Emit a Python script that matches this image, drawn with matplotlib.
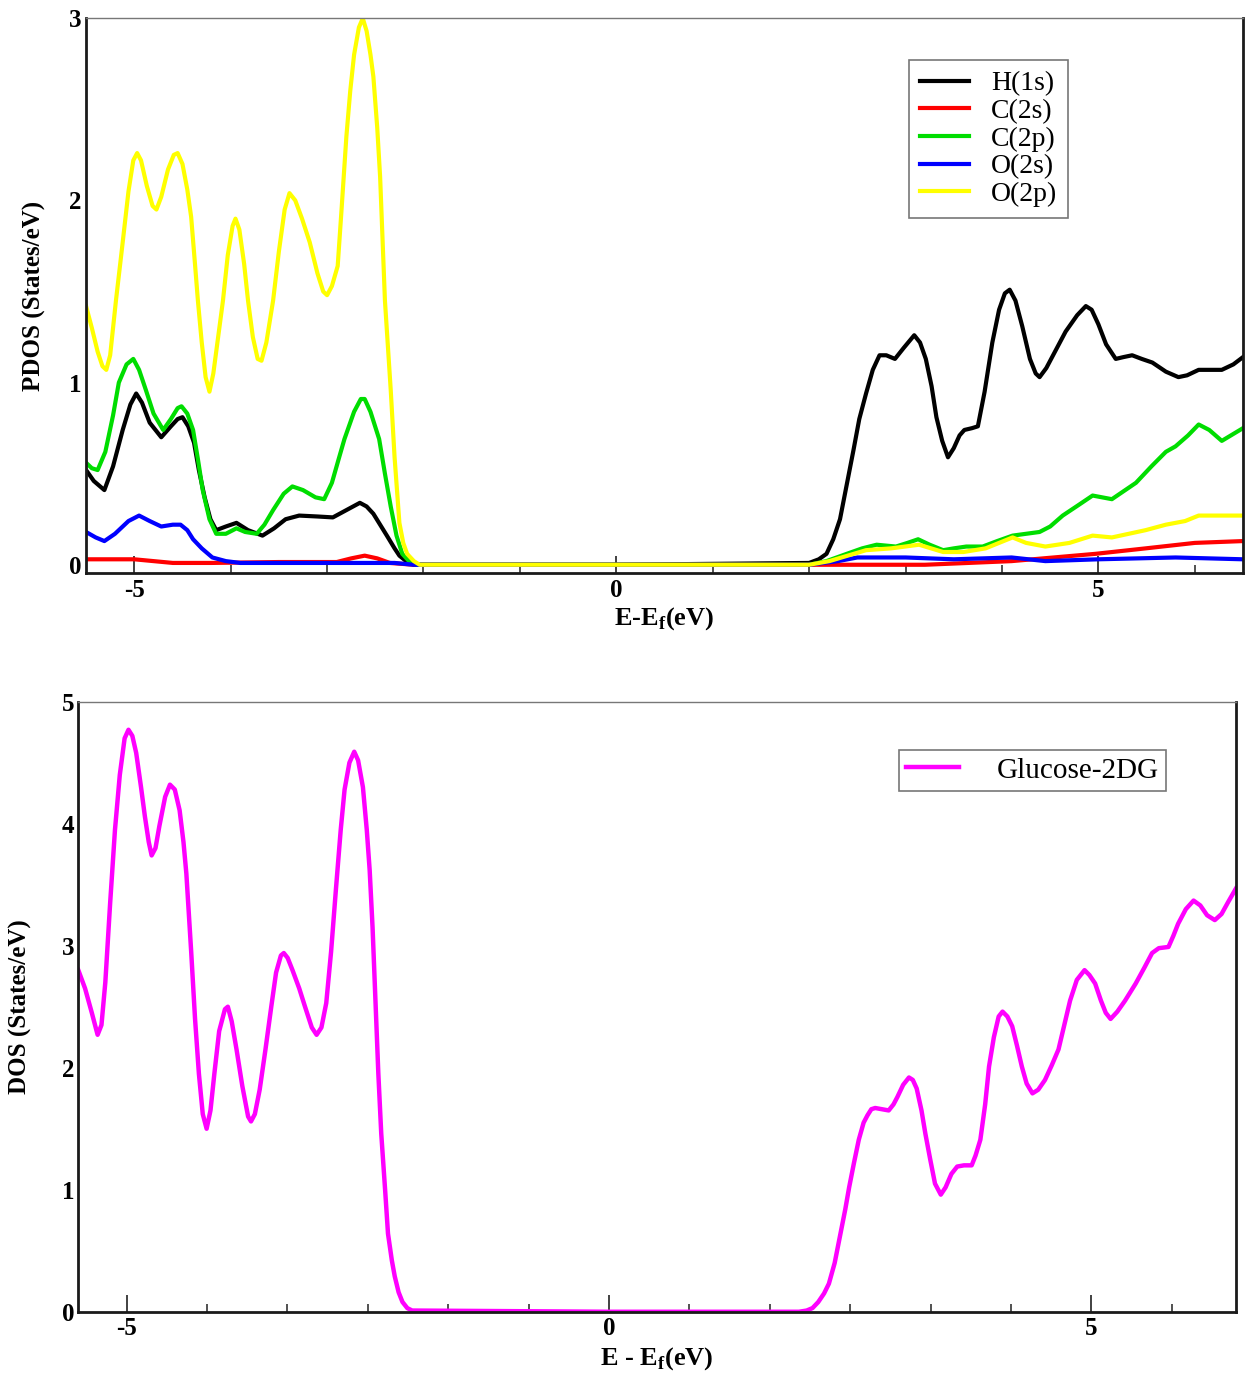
import matplotlib
matplotlib.use("Agg")
import matplotlib.pyplot as plt
from matplotlib.ticker import MultipleLocator, FixedLocator

plt.rcParams['font.family'] = ['Liberation Serif', 'DejaVu Serif']
plt.rcParams['mathtext.fontset'] = 'custom'
plt.rcParams['mathtext.rm'] = 'Liberation Serif'
plt.rcParams['mathtext.bf'] = 'Liberation Serif:bold'
plt.rcParams['axes.unicode_minus'] = False

# ---- top panel: PDOS ----
e_h1s = [-5.5, -5.42, -5.31, -5.22, -5.12, -5.04, -4.98, -4.92, -4.84, -4.72, -4.62, -4.55,
         -4.50, -4.44, -4.38, -4.33, -4.27, -4.21, -4.15, -4.05, -3.94, -3.82, -3.67, -3.55,
         -3.43, -3.29, -3.10, -2.94, -2.80, -2.66, -2.59, -2.52, -2.45, -2.38, -2.30, -2.25,
         -2.18, -2.10, 0.0,
         2.00, 2.10, 2.18, 2.25, 2.32, 2.39, 2.46, 2.52, 2.59, 2.66, 2.73, 2.80, 2.89, 2.98,
         3.09, 3.15, 3.21, 3.27, 3.32, 3.38, 3.44, 3.50, 3.56, 3.61, 3.69, 3.75, 3.82, 3.90,
         3.97, 4.03, 4.08, 4.14, 4.21, 4.29, 4.35, 4.39, 4.46, 4.56, 4.66, 4.78, 4.87, 4.93,
         5.00, 5.08, 5.18, 5.26, 5.35, 5.45, 5.56, 5.70, 5.83, 5.92, 6.04, 6.28, 6.40, 6.5]
h1s = [0.52, 0.46, 0.41, 0.54, 0.74, 0.88, 0.94, 0.89, 0.78, 0.70, 0.76, 0.80,
       0.81, 0.76, 0.67, 0.52, 0.37, 0.25, 0.19, 0.21, 0.23, 0.19, 0.16, 0.20,
       0.25, 0.27, 0.265, 0.26, 0.30, 0.34, 0.32, 0.28, 0.22, 0.16, 0.09, 0.05,
       0.02, 0.0, 0.0,
       0.01, 0.03, 0.06, 0.14, 0.25, 0.44, 0.63, 0.80, 0.94, 1.07, 1.15, 1.15, 1.13, 1.19,
       1.26, 1.22, 1.13, 0.98, 0.81, 0.68, 0.59, 0.64, 0.71, 0.74, 0.75, 0.76, 0.95, 1.22,
       1.40, 1.49, 1.51, 1.45, 1.31, 1.13, 1.05, 1.03, 1.08, 1.18, 1.28, 1.37, 1.42, 1.40,
       1.32, 1.21, 1.13, 1.14, 1.15, 1.13, 1.11, 1.06, 1.03, 1.04, 1.07, 1.07, 1.10, 1.14]

e_c2s = [-5.5, -5.0, -4.6, -4.2, -3.5, -2.9, -2.75, -2.61, -2.48, -2.35, -2.1, 0.0,
         2.0, 2.5, 3.2, 4.1, 4.97, 5.49, 6.0, 6.5]
c2s = [0.03, 0.03, 0.01, 0.01, 0.015, 0.015, 0.035, 0.05, 0.035, 0.01, 0.0, 0.0,
       0.0, 0.0, 0.0, 0.02, 0.06, 0.09, 0.12, 0.13]

e_c2p = [-5.5, -5.44, -5.38, -5.30, -5.22, -5.16, -5.08, -5.01, -4.95, -4.88, -4.80, -4.70,
         -4.62, -4.55, -4.51, -4.45, -4.39, -4.34, -4.29, -4.22, -4.15, -4.05, -3.94, -3.85,
         -3.73, -3.65, -3.56, -3.45, -3.36, -3.25, -3.12, -3.03, -2.95, -2.88, -2.82, -2.72,
         -2.65, -2.61, -2.55, -2.46, -2.40, -2.34, -2.28, -2.22, -2.15, -2.08, 0.0,
         2.0, 2.18, 2.39, 2.55, 2.70, 2.90, 3.02, 3.13, 3.25, 3.39, 3.50, 3.63, 3.80, 3.95,
         4.11, 4.39, 4.50, 4.63, 4.80, 4.94, 5.14, 5.39, 5.55, 5.70, 5.80, 5.93, 6.04, 6.15,
         6.28, 6.5]
c2p = [0.56, 0.53, 0.52, 0.62, 0.82, 1.00, 1.10, 1.13, 1.07, 0.96, 0.83, 0.74,
       0.80, 0.86, 0.87, 0.83, 0.74, 0.58, 0.41, 0.25, 0.17, 0.17, 0.20, 0.18,
       0.17, 0.22, 0.30, 0.39, 0.43, 0.41, 0.37, 0.36, 0.45, 0.58, 0.69, 0.84,
       0.91, 0.91, 0.84, 0.69, 0.50, 0.32, 0.16, 0.06, 0.02, 0.0, 0.0,
       0.0, 0.02, 0.06, 0.09, 0.11, 0.10, 0.12, 0.14, 0.11, 0.08, 0.09, 0.10, 0.10, 0.13,
       0.16, 0.18, 0.21, 0.27, 0.33, 0.38, 0.36, 0.45, 0.54, 0.62, 0.65, 0.71, 0.77, 0.74,
       0.68, 0.75]

e_o2s = [-5.5, -5.40, -5.31, -5.20, -5.06, -4.95, -4.84, -4.72, -4.60, -4.52, -4.45, -4.39,
         -4.30, -4.19, -4.05, -3.9, -3.0, -2.3, -2.1, 0.0,
         2.0, 2.3, 2.5, 3.0, 3.5, 4.1, 4.45, 5.0, 5.8, 6.5]
o2s = [0.18, 0.15, 0.13, 0.17, 0.24, 0.27, 0.24, 0.21, 0.22, 0.22, 0.19, 0.14,
       0.09, 0.04, 0.02, 0.01, 0.01, 0.01, 0.0, 0.0,
       0.0, 0.02, 0.04, 0.04, 0.03, 0.04, 0.02, 0.03, 0.04, 0.03]

e_o2p = [-5.5, -5.44, -5.38, -5.33, -5.29, -5.25, -5.19, -5.12, -5.06, -5.01, -4.97, -4.93,
         -4.87, -4.81, -4.77, -4.72, -4.65, -4.59, -4.55, -4.50, -4.45, -4.41, -4.37, -4.34,
         -4.30, -4.26, -4.22, -4.18, -4.13, -4.08, -4.03, -3.98, -3.95, -3.91, -3.86, -3.82,
         -3.77, -3.72, -3.68, -3.63, -3.56, -3.50, -3.44, -3.39, -3.33, -3.26, -3.18, -3.10,
         -3.04, -3.00, -2.95, -2.89, -2.85, -2.80, -2.76, -2.72, -2.67, -2.63, -2.59, -2.55,
         -2.52, -2.48, -2.45, -2.40, -2.34, -2.30, -2.25, -2.21, -2.17, -2.10, -2.04, 0.0,
         2.0, 2.21, 2.40, 2.59, 2.85, 3.14, 3.39, 3.6, 3.83, 4.11, 4.25, 4.45, 4.70, 4.94,
         5.14, 5.49, 5.70, 5.90, 6.04, 6.5]
o2p = [1.42, 1.30, 1.17, 1.09, 1.07, 1.15, 1.45, 1.77, 2.05, 2.22, 2.26, 2.22,
       2.08, 1.97, 1.95, 2.02, 2.17, 2.25, 2.26, 2.20, 2.06, 1.91, 1.65, 1.45,
       1.22, 1.03, 0.95, 1.05, 1.25, 1.45, 1.70, 1.86, 1.90, 1.84, 1.65, 1.45,
       1.25, 1.13, 1.12, 1.22, 1.45, 1.72, 1.95, 2.04, 2.00, 1.90, 1.77, 1.60,
       1.50, 1.48, 1.53, 1.64, 1.95, 2.35, 2.60, 2.80, 2.95, 3.00, 2.93, 2.80,
       2.68, 2.40, 2.13, 1.45, 0.96, 0.59, 0.23, 0.12, 0.06, 0.02, 0.0, 0.0,
       0.0, 0.02, 0.05, 0.08, 0.09, 0.11, 0.07, 0.07, 0.09, 0.15, 0.12, 0.10, 0.12, 0.16,
       0.15, 0.19, 0.22, 0.24, 0.27, 0.27]

pdos_names = ["H(1s)", "C(2s)", "C(2p)", "O(2s)", "O(2p)"]
pdos_colors = ["#000000", "#ff0000", "#00dd00", "#0000ff", "#ffff00"]

# ---- bottom panel: total DOS ----
e_dos = [-5.5, -5.43, -5.36, -5.30, -5.26, -5.22, -5.17, -5.12, -5.07, -5.02, -4.98, -4.94,
         -4.90, -4.85, -4.81, -4.77, -4.74, -4.70, -4.66, -4.60, -4.55, -4.50, -4.45, -4.41,
         -4.38, -4.33, -4.29, -4.25, -4.21, -4.17, -4.13, -4.09, -4.04, -3.98, -3.95, -3.91,
         -3.86, -3.80, -3.74, -3.71, -3.67, -3.62, -3.56, -3.50, -3.45, -3.40, -3.37, -3.33,
         -3.28, -3.21, -3.15, -3.08, -3.03, -2.98, -2.93, -2.88, -2.83, -2.78, -2.74, -2.69,
         -2.64, -2.60, -2.55, -2.51, -2.48, -2.45, -2.42, -2.39, -2.36, -2.32, -2.29, -2.25,
         -2.22, -2.18, -2.14, -2.09, -2.04, 0.0,
         1.97, 2.05, 2.11, 2.17, 2.23, 2.28, 2.34, 2.40, 2.45, 2.49, 2.54, 2.59,
         2.64, 2.68, 2.72, 2.76, 2.83, 2.90, 2.95, 2.99, 3.05, 3.11, 3.15, 3.19,
         3.24, 3.28, 3.33, 3.38, 3.44, 3.49, 3.55, 3.61, 3.68, 3.76, 3.80, 3.85,
         3.90, 3.94, 3.99, 4.04, 4.08, 4.13, 4.18, 4.23, 4.28, 4.33, 4.39, 4.45,
         4.52, 4.59, 4.66, 4.72, 4.78, 4.85, 4.93, 4.98, 5.04, 5.10, 5.15, 5.20,
         5.27, 5.35, 5.46, 5.55, 5.63, 5.70, 5.80, 5.85, 5.90, 5.98, 6.06, 6.13,
         6.20, 6.28, 6.35, 6.42, 6.5]
dos = [2.80, 2.65, 2.45, 2.27, 2.35, 2.70, 3.35, 3.95, 4.40, 4.70, 4.77, 4.72,
       4.58, 4.30, 4.06, 3.85, 3.74, 3.80, 3.98, 4.22, 4.32, 4.28, 4.11, 3.85,
       3.59, 2.95, 2.40, 1.95, 1.62, 1.50, 1.65, 1.95, 2.30, 2.48, 2.50, 2.38,
       2.15, 1.85, 1.60, 1.56, 1.62, 1.82, 2.15, 2.50, 2.78, 2.92, 2.94, 2.90,
       2.80, 2.65, 2.50, 2.33, 2.27, 2.33, 2.53, 2.95, 3.46, 3.95, 4.28, 4.50,
       4.59, 4.52, 4.30, 3.95, 3.62, 3.15, 2.55, 1.95, 1.46, 1.00, 0.64, 0.42,
       0.29, 0.16, 0.08, 0.03, 0.01, 0.0,
       0.0, 0.01, 0.03, 0.08, 0.15, 0.23, 0.40, 0.64, 0.84, 1.02, 1.22, 1.41,
       1.55, 1.61, 1.66, 1.67, 1.66, 1.65, 1.70, 1.76, 1.86, 1.92, 1.90, 1.83,
       1.65, 1.46, 1.25, 1.05, 0.96, 1.02, 1.13, 1.19, 1.20, 1.20, 1.28, 1.41,
       1.70, 2.01, 2.25, 2.42, 2.46, 2.42, 2.34, 2.18, 2.01, 1.87, 1.79, 1.82,
       1.90, 2.02, 2.15, 2.35, 2.55, 2.72, 2.80, 2.76, 2.69, 2.55, 2.45, 2.40,
       2.46, 2.55, 2.69, 2.82, 2.94, 2.98, 2.99, 3.08, 3.18, 3.30, 3.37, 3.33,
       3.25, 3.21, 3.26, 3.36, 3.47]

xticks = [-5, 0, 5]


def style_axes(ax, minor_step):
    for side in ["left", "bottom", "right"]:
        ax.spines[side].set_linewidth(2.0)
        ax.spines[side].set_color("#1a1a1a")
    ax.spines["top"].set_linewidth(1.0)
    ax.spines["top"].set_color("#777777")
    ax.set_xlim(-5.5, 6.5)
    ax.xaxis.set_major_locator(FixedLocator(xticks))
    ax.xaxis.set_minor_locator(MultipleLocator(minor_step))
    ax.tick_params(axis="x", which="major", direction="in", length=12, width=1.3,
                   labelsize=18, pad=4, color="#333333")
    ax.tick_params(axis="x", which="minor", direction="in", length=6, width=1.2,
                   color="#333333")
    ax.tick_params(axis="y", which="both", length=0, labelsize=18, pad=3)
    for lab in ax.get_xticklabels() + ax.get_yticklabels():
        lab.set_fontweight("bold")


fig = plt.figure(figsize=(12.49, 13.74), dpi=100)

# top: PDOS
ax1 = fig.add_axes([0.0689, 0.583, 0.9263, 0.4037])
series = [(e_h1s, h1s), (e_c2s, c2s), (e_c2p, c2p), (e_o2s, o2s), (e_o2p, o2p)]
for (ex, vals), name, col in zip(series, pdos_names, pdos_colors):
    ax1.plot(ex, vals, color=col, lw=3.0, label=name, solid_joinstyle="round")
ax1.set_ylim(-0.045, 3.0)
ax1.set_yticks([0, 1, 2, 3])
style_axes(ax1, 1.0)
ax1.set_xlabel("E-E$_{\\mathbf{f}}$(eV)", fontsize=19, fontweight="bold")
ax1.xaxis.set_label_coords(0.5, -0.058)
ax1.xaxis.label.set_va("top")
ax1.set_ylabel("PDOS (States/eV)", fontsize=18, fontweight="bold")
ax1.yaxis.set_label_coords(-0.035, 0.5)
leg1 = ax1.legend(loc="upper right", bbox_to_anchor=(0.849, 0.925), borderaxespad=0,
                  fontsize=20, frameon=True, fancybox=False, handlelength=1.75,
                  handletextpad=0.8, labelspacing=0.08, borderpad=0.4)
leg1.get_frame().set_edgecolor("#555555")
leg1.get_frame().set_linewidth(1.2)
for line in leg1.get_lines():
    line.set_linewidth(3.0)

# bottom: total DOS
ax2 = fig.add_axes([0.0627, 0.0453, 0.9269, 0.444])
ax2.plot(e_dos, dos, color="#ff00ff", lw=3.2, label="Glucose-2DG", solid_joinstyle="round")
ax2.set_ylim(0, 5)
ax2.set_yticks([0, 1, 2, 3, 4, 5])
style_axes(ax2, 5 / 6)
ax2.set_xlabel("E - E$_{\\mathbf{f}}$(eV)", fontsize=19, fontweight="bold")
ax2.xaxis.set_label_coords(0.5, -0.055)
ax2.xaxis.label.set_va("top")
ax2.set_ylabel("DOS (States/eV)", fontsize=18, fontweight="bold")
ax2.yaxis.set_label_coords(-0.040, 0.5)
leg2 = ax2.legend(loc="upper right", bbox_to_anchor=(0.9395, 0.921), borderaxespad=0,
                  fontsize=21, frameon=True, fancybox=False, handlelength=1.8,
                  handletextpad=1.3, borderpad=0.25)
leg2.get_frame().set_edgecolor("#555555")
leg2.get_frame().set_linewidth(1.2)

fig.savefig("out.png", dpi=100)
